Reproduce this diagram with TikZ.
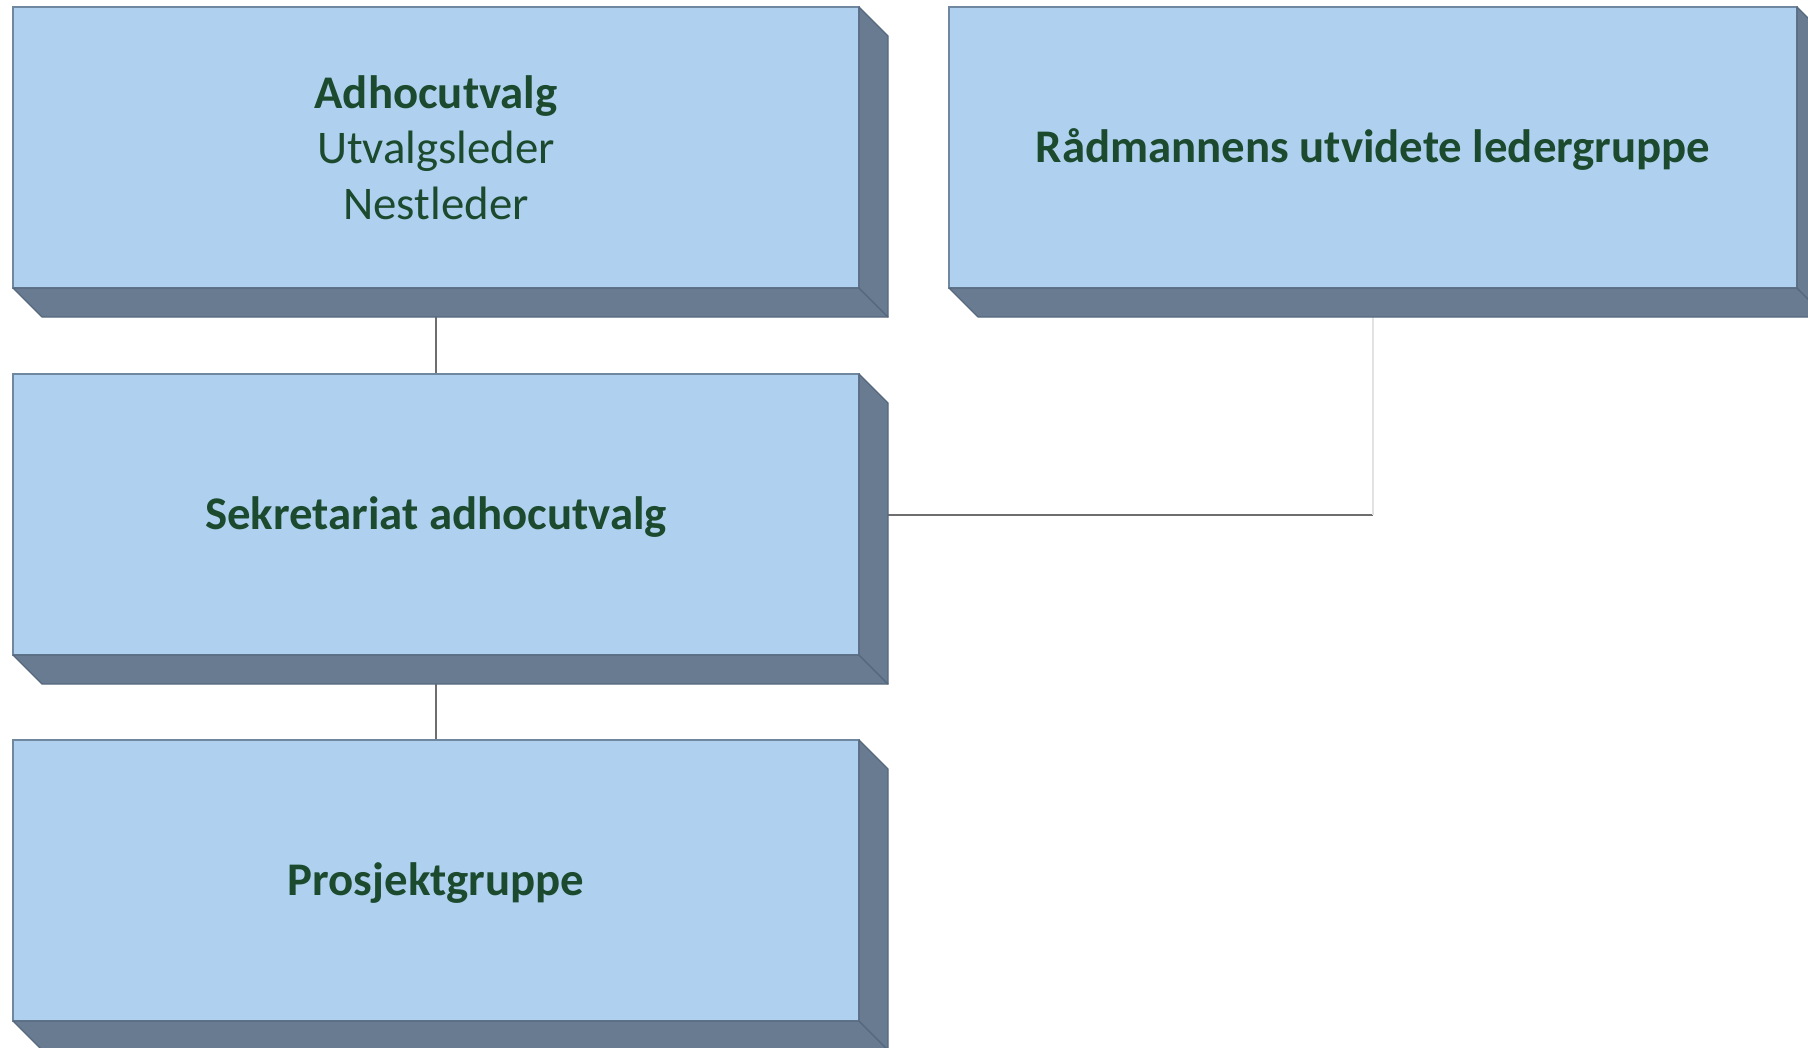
\documentclass[tikz,border=0pt]{standalone}
\usepackage{fontspec}
\setmainfont{Carlito}
\usetikzlibrary{calc,backgrounds}
\definecolor{frontblue}{HTML}{AFD1EF}
\definecolor{sideslate}{HTML}{687B91}
\definecolor{edgeslate}{HTML}{55687E}
\definecolor{txtgreen}{HTML}{1C4A2E}
\definecolor{linegray}{HTML}{6E6E6E}
\definecolor{lightline}{HTML}{E2E2E2}
\tikzset{
  boxface/.style={draw=edgeslate!70!frontblue, line width=0.6pt, fill=frontblue,
    minimum width=423pt, minimum height=140.5pt, inner sep=0pt, outer sep=0pt,
    text=txtgreen, align=center, font=\fontsize{23.4}{27.7}\selectfont},
  oneline/.style={text height=21pt, text depth=5.8pt},
  sideface/.style={fill=sideslate, draw=edgeslate, line width=0.6pt, line join=round},
  conn/.style={draw=linegray, line width=1pt},
  connlight/.style={draw=lightline, line width=1pt}
}
\begin{document}
\begin{tikzpicture}[x=0.5pt,y=-0.5pt]
\useasboundingbox (0,0) rectangle (1808,1048);
\node[boxface] (b1) at (436,147.5) {\textbf{Adhocutvalg}\\Utvalgsleder\\Nestleder};
\node[boxface, oneline, minimum width=424pt] (b2) at (1373,147.5) {\textbf{Rådmannens utvidete ledergruppe}};
\node[boxface, oneline] (b3) at (436,514.5) {\textbf{Sekretariat adhocutvalg}};
\node[boxface, oneline] (b4) at (436,880.5) {\textbf{Prosjektgruppe}};
\foreach \n in {b1,b2,b3,b4}{
  \path[sideface] (\n.south west) -- (\n.south east) -- ++(29,29) -- ($(\n.south west)+(29,29)$) -- cycle;
  \path[sideface] (\n.north east) -- ++(29,29) -- ($(\n.south east)+(29,29)$) -- (\n.south east) -- cycle;
}
\coordinate (corner) at (b2.south |- b3.east);
\begin{scope}[on background layer]
\draw[conn] (b1.south) -- (b3.north);
\draw[conn] (b3.south) -- (b4.north);
\draw[conn] (b3.east) -- (corner);
\draw[connlight] (corner) -- (b2.south);
\end{scope}
\end{tikzpicture}
\end{document}
